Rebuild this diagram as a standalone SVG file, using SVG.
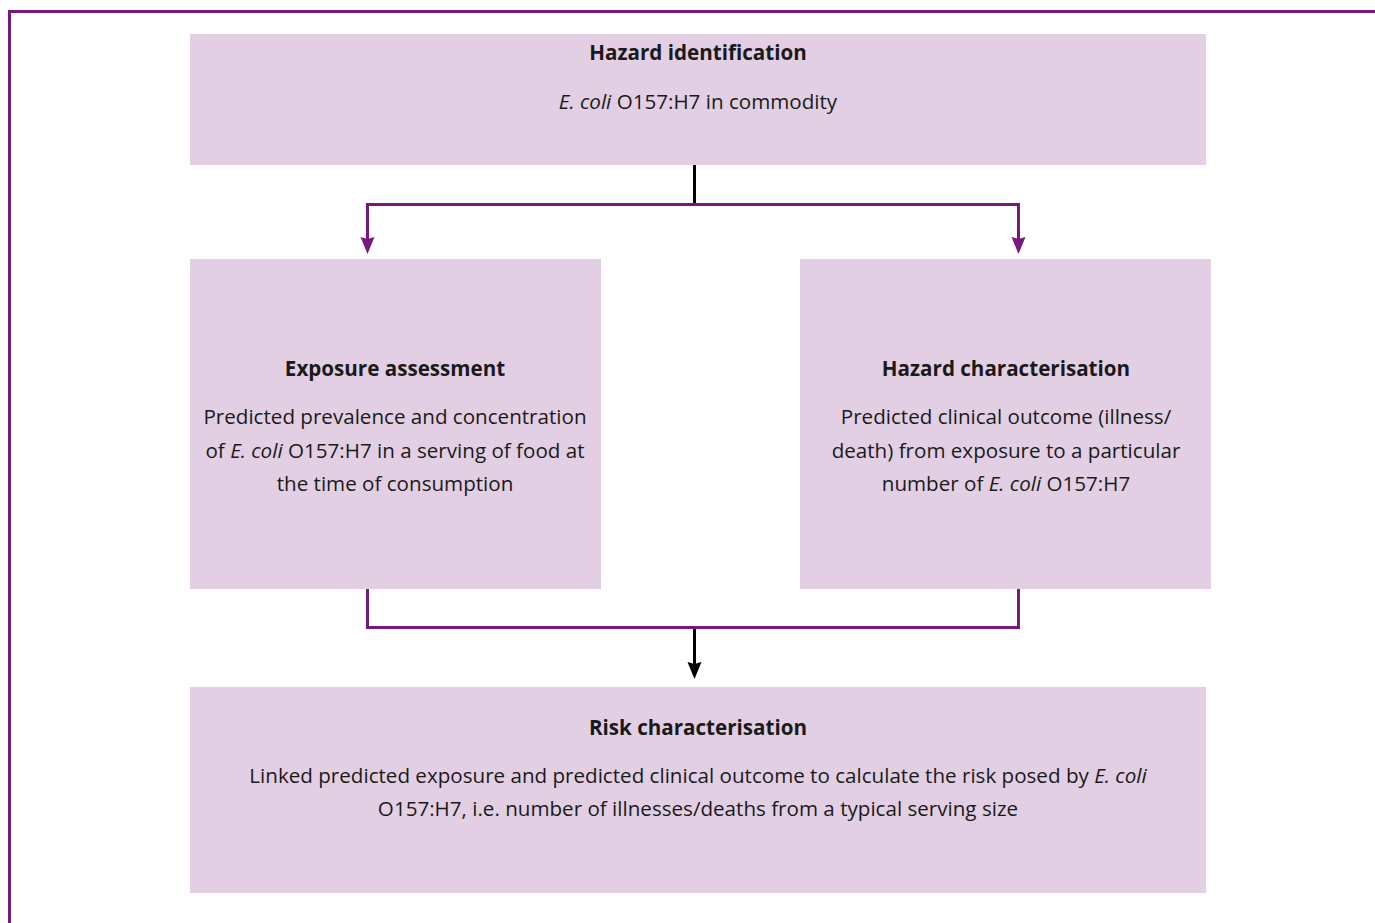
<svg xmlns="http://www.w3.org/2000/svg" width="1375" height="923" viewBox="0 0 1375 923">
<style>
.box{fill:#e2cfe3}
text{font-family:"Open Sans","Noto Sans",sans-serif;font-size:20.6px;fill:#1a1a1a;text-anchor:middle}
.b{font-weight:bold}
.i{font-style:italic}
.pl{fill:none;stroke:#77197c;stroke-width:3}
.bl{fill:none;stroke:#000;stroke-width:3}
.hp{fill:#77197c}
.hb{fill:#000}
</style>
<defs>
<path id="head" d="M-7,-17 L0,-15 L7,-17 L0,0 Z"/>
</defs>
<rect width="1375" height="923" fill="#fff"/>
<path d="M9.5,923 V11.5 H1375" fill="none" stroke="#77197c" stroke-width="3"/>
<g id="hazard-identification">
<rect class="box" x="190" y="34" width="1016" height="131"/>
<text class="b" x="698" y="60">Hazard identification</text>
<text x="698" y="109"><tspan class="i">E. coli</tspan> O157:H7 in commodity</text>
</g>
<g id="exposure-assessment">
<rect class="box" x="190" y="259" width="411" height="330"/>
<text class="b" x="395" y="376">Exposure assessment</text>
<text x="395" y="424">Predicted prevalence and concentration</text>
<text x="395" y="458">of <tspan class="i">E. coli</tspan> O157:H7 in a serving of food at</text>
<text x="395" y="491">the time of consumption</text>
</g>
<g id="hazard-characterisation">
<rect class="box" x="800" y="259" width="411" height="330"/>
<text class="b" x="1006" y="376">Hazard characterisation</text>
<text x="1006" y="424">Predicted clinical outcome (illness/</text>
<text x="1006" y="458">death) from exposure to a particular</text>
<text x="1006" y="491">number of <tspan class="i">E. coli</tspan> O157:H7</text>
</g>
<g id="risk-characterisation">
<rect class="box" x="190" y="687" width="1016" height="206"/>
<text class="b" x="698" y="735">Risk characterisation</text>
<text x="698" y="783">Linked predicted exposure and predicted clinical outcome to calculate the risk posed by <tspan class="i">E. coli</tspan></text>
<text x="698" y="816">O157:H7, i.e. number of illnesses/deaths from a typical serving size</text>
</g>
<g id="connectors">
<line class="bl" x1="694.5" y1="165" x2="694.5" y2="204"/>
<path class="pl" d="M367.5,242 V204.5 H1018.5 V242"/>
<use href="#head" class="hp" x="367.5" y="254"/>
<use href="#head" class="hp" x="1018.5" y="254"/>
<path class="pl" d="M367.5,589 V627.5 H1018.5 V589"/>
<line class="bl" x1="694.5" y1="629" x2="694.5" y2="667"/>
<use href="#head" class="hb" x="694.5" y="679"/>
</g>
</svg>
